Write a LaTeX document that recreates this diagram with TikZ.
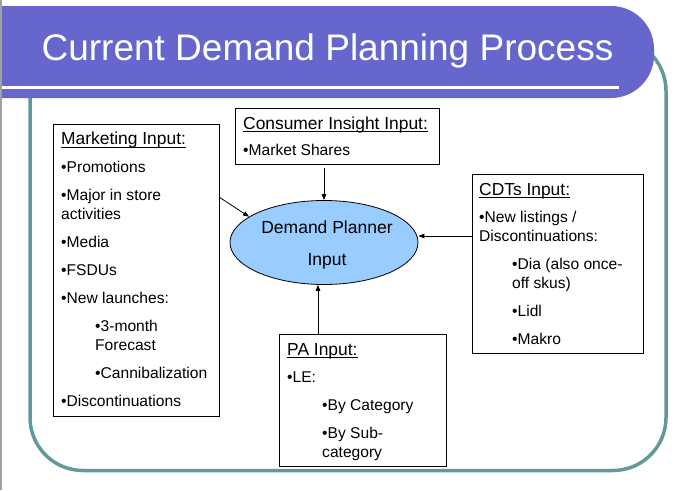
\documentclass[tikz,border=0pt]{standalone}
\usepackage{fontspec}
\setmainfont{Liberation Sans}
\usetikzlibrary{arrows.meta,shapes.geometric}
\definecolor{titlebar}{HTML}{6666CC}
\definecolor{frameteal}{HTML}{649999}
\definecolor{ellfill}{HTML}{99CCFF}
\definecolor{slidegray}{HTML}{A0A0A0}
\begin{document}
\begin{tikzpicture}[x=1pt,y=-1pt,
  inbox/.style={draw=black, line width=0.9pt, fill=white, rectangle, inner sep=0pt, anchor=north west},
  ln/.style={anchor=base west, inner sep=0pt, font=\fontsize{15.6}{19}\selectfont},
  hd/.style={anchor=base west, inner sep=0pt, font=\fontsize{17.4}{20}\selectfont},
  ctr/.style={anchor=base, inner sep=0pt, font=\fontsize{17.5}{20}\selectfont},
  ul/.style={line width=1.1pt, draw=black},
  arr/.style={-{Triangle[length=6pt,width=4.5pt]}, line width=0.8pt, draw=black}]
\useasboundingbox (0,0) rectangle (676,490);
\fill[white] (0,0) rectangle (676,490);
% frame
\draw[frameteal, line width=3.5pt, rounded corners=53pt] (30,38) rectangle (666,470.5);
% title bar
\fill[titlebar] (0,6) [rounded corners=43pt] -- (654,6) -- (654,98) [sharp corners] -- (0,98) -- cycle;
\draw[white, line width=3pt] (0,87.5) -- (619,87.5);
\node[anchor=base, inner sep=0pt, text=white, font=\fontsize{37}{40}\selectfont] (title) at (327.5,60) {Current Demand Planning Process};
\draw[slidegray, line width=1.5pt] (0.75,0) -- (0.75,490);
% boxes
\node[inbox, minimum width=166pt, minimum height=292pt] (mk) at (53,124) {};
\node[inbox, minimum width=204pt, minimum height=56pt] (ci) at (235,108) {};
\node[inbox, minimum width=171pt, minimum height=179pt] (cdt) at (472,174) {};
\node[inbox, minimum width=167pt, minimum height=132pt] (pa) at (279,334) {};
\node[ellipse, draw=black, line width=0.8pt, fill=ellfill, minimum width=188pt, minimum height=84pt, inner sep=0pt] (dp) at (324,242.5) {};
\node[ctr] (dp1) at (327,233) {Demand Planner};
\node[ctr] (dp2) at (327,265) {Input};
% connectors
\coordinate (mkout) at (219,197);
\coordinate (ciout) at (324,168);
\coordinate (cdtout) at (472,236);
\coordinate (paout) at (318,334);
\draw[arr] (mkout) -- (dp.161);
\draw[arr] (ciout) -- (dp.north);
\draw[arr] (cdtout) -- (dp.east |- cdtout);
\draw[arr] (paout) -- (paout |- dp.south);
% marketing text
\node[hd] (mk0) at (61,144.5) {Marketing Input:};
\draw[ul] ([yshift=-2.6pt]mk0.base west) -- ([yshift=-2.6pt]mk0.base east);
\node[ln] (mk1) at (61,172.5) {•Promotions};
\node[ln] (mk2) at (61,200.5) {•Major in store};
\node[ln] (mk3) at (61,219.5) {activities};
\node[ln] (mk4) at (61,247.5) {•Media};
\node[ln] (mk5) at (61,275.5) {•FSDUs};
\node[ln] (mk6) at (61,303.5) {•New launches:};
\node[ln] (mk7) at (95,331.5) {•3-month};
\node[ln] (mk8) at (95,350.5) {Forecast};
\node[ln] (mk9) at (95,378.5) {•Cannibalization};
\node[ln] (mk10) at (61,406.5) {•Discontinuations};
% consumer insight text
\node[hd] (ci0) at (243,129) {Consumer Insight Input:};
\draw[ul] ([yshift=-2.6pt]ci0.base west) -- ([yshift=-2.6pt]ci0.base east);
\node[ln] (ci1) at (243,155.5) {•Market Shares};
% CDTs text
\node[hd] (cd0) at (479,195) {CDTs Input:};
\draw[ul] ([yshift=-2.6pt]cd0.base west) -- ([yshift=-2.6pt]cd0.base east);
\node[ln] (cd1) at (479,222.5) {•New listings /};
\node[ln] (cd2) at (479,241.5) {Discontinuations:};
\node[ln] (cd3) at (512,269.5) {•Dia (also once-};
\node[ln] (cd4) at (512,288.5) {off skus)};
\node[ln] (cd5) at (512,316.5) {•Lidl};
\node[ln] (cd6) at (512,344.5) {•Makro};
% PA text
\node[hd] (pa0) at (287,355) {PA Input:};
\draw[ul] ([yshift=-2.6pt]pa0.base west) -- ([yshift=-2.6pt]pa0.base east);
\node[ln] (pa1) at (287,382.5) {•LE:};
\node[ln] (pa2) at (322,410.5) {•By Category};
\node[ln] (pa3) at (322,438.5) {•By Sub-};
\node[ln] (pa4) at (322,457.5) {category};
\end{tikzpicture}
\end{document}
